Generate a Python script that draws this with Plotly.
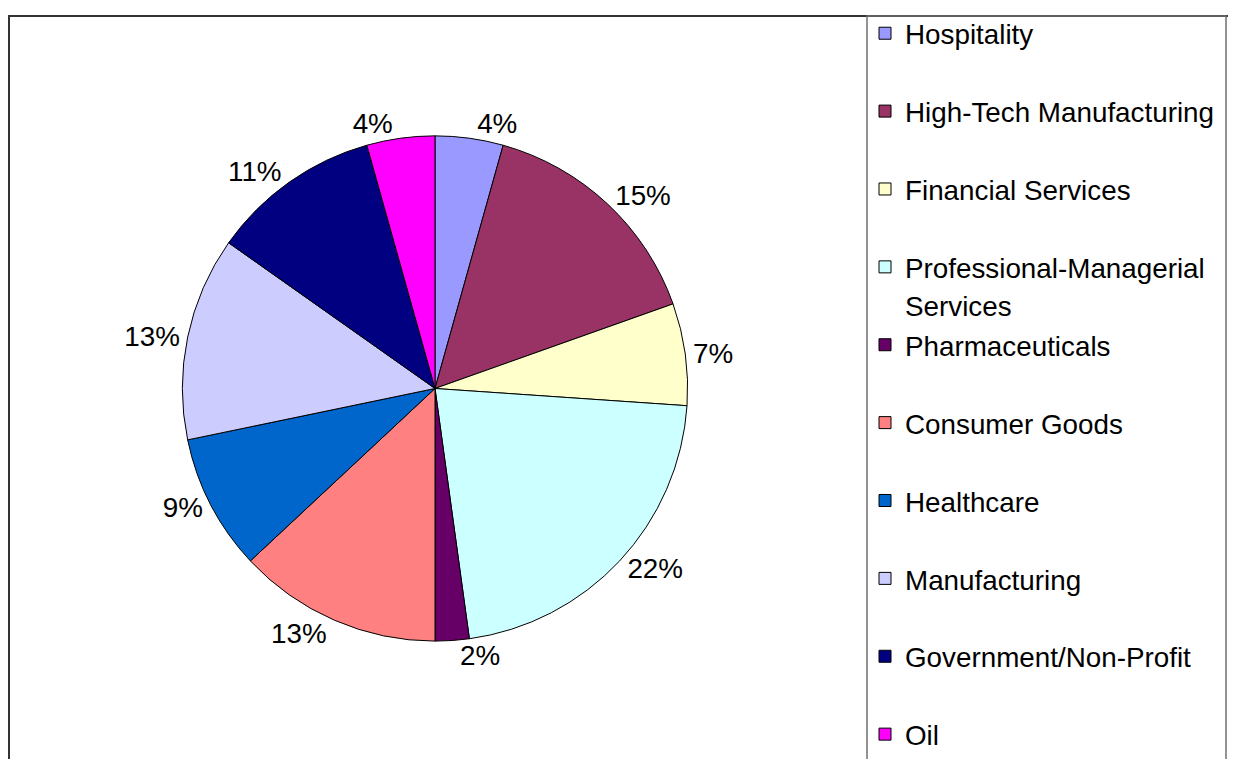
import plotly.graph_objects as go

# ---- data ----
categories = [
    "Hospitality",
    "High-Tech Manufacturing",
    "Financial Services",
    "Professional-Managerial Services",
    "Pharmaceuticals",
    "Consumer Goods",
    "Healthcare",
    "Manufacturing",
    "Government/Non-Profit",
    "Oil",
]
counts = [2, 7, 3, 10, 1, 6, 4, 6, 5, 2]
colors = [
    "#9999FF", "#993366", "#FFFFCC", "#CCFFFF", "#660066",
    "#FF8080", "#0066CC", "#CCCCFF", "#000080", "#FF00FF",
]

# the page body adds an 8px margin, so the figure fills the rest of the window
W, H = 1228, 751
OFF = 8
FONT = "Liberation Sans, Arial, sans-serif"
TXT = 27.8


def legend_label(name, last=False):
    if name == "Professional-Managerial Services":
        return (f"<span style='font-size:{TXT}px'>Professional-Managerial</span><br>"
                f"<span style='font-size:{TXT}px'>Services</span>")
    s = f"<span style='font-size:{TXT}px'>{name}</span>"
    return s if last else s + "<br> "


labels = [legend_label(c, i == len(categories) - 1) for i, c in enumerate(categories)]

cx, cy, r = 435 - OFF, 385 - OFF, 255

fig = go.Figure(
    go.Pie(
        labels=labels,
        values=counts,
        marker=dict(colors=colors, line=dict(color="black", width=1)),
        sort=False,
        direction="clockwise",
        rotation=0,
        textposition="outside",
        texttemplate="%{percent:.0%}",
        textfont=dict(family=FONT, size=TXT, color="black"),
        domain=dict(x=[(cx - r) / W, (cx + r) / W], y=[1 - (cy + r) / H, 1 - (cy - r) / H]),
        hoverinfo="label+value+percent",
    )
)

fig.update_layout(
    width=W,
    height=H,
    margin=dict(l=0, r=0, t=0, b=0),
    paper_bgcolor="white",
    plot_bgcolor="white",
    font=dict(family=FONT, color="black"),
    showlegend=True,
    legend=dict(
        x=(865 - OFF) / W,
        xanchor="left",
        y=1 + 7 / H,
        yanchor="top",
        valign="top",
        font=dict(family=FONT, size=28.8, color="black"),
        bgcolor="rgba(0,0,0,0)",
        borderwidth=0,
        traceorder="normal",
        maxheight=1000,
    ),
    shapes=[
        dict(type="rect", xref="paper", yref="paper",
             x0=1 / W, x1=(1231.5 - OFF) / W, y0=-0.2, y1=1 - 1 / H,
             line=dict(color="#333333", width=2), layer="above"),
        dict(type="rect", xref="paper", yref="paper",
             x0=(867 - OFF) / W, x1=(1226 - OFF) / W, y0=-0.2, y1=1 - 1 / H,
             line=dict(color="#707070", width=1.5), layer="above"),
    ],
)

fig.write_html("out.html")
